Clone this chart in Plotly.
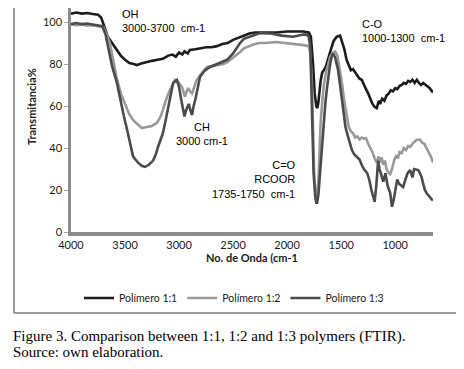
import plotly.graph_objects as go

# ---- data ----
x_p11 = [4000, 3950, 3900, 3850, 3800, 3750, 3720, 3690, 3660, 3620, 3580, 3540, 3500, 3460, 3420, 3390,
         3350, 3300, 3250, 3200, 3150, 3100, 3060, 3030, 3000, 2970, 2950, 2920, 2900, 2850, 2800, 2750,
         2700, 2650, 2600, 2550, 2500, 2450, 2400, 2350, 2300, 2250, 2200, 2100, 2000, 1900, 1850, 1800,
         1780, 1760, 1745, 1730, 1720, 1710, 1700, 1690, 1675, 1660, 1640, 1620, 1600, 1570, 1540, 1510,
         1490, 1470, 1450, 1430, 1410, 1390, 1370, 1350, 1330, 1310, 1290, 1270, 1250, 1230, 1210, 1190,
         1170, 1160, 1150, 1140, 1120, 1100, 1080, 1060, 1040, 1020, 1000, 980, 960, 940, 920, 900, 880,
         860, 840, 820, 800, 780, 760, 740, 720, 700, 680, 660, 650]
y_p11 = [104, 104.5, 104, 104.3, 103.8, 103.5, 102, 97, 93, 90, 87, 84, 82, 80.5, 80, 79.5,
         80.2, 81, 81.5, 82, 82.5, 84, 84.5, 83.5, 85.5, 84.5, 86, 85, 86.7, 87, 87.5, 88,
         88, 88.5, 89.5, 90, 91.5, 92.5, 93.5, 94.5, 95, 95, 95.2, 95, 95.5, 95.5, 95.5, 95,
         93, 80, 66, 60, 59, 62, 68, 72, 76, 77, 79, 82, 86, 91, 93, 93.5,
         90, 87, 82, 79, 77, 77.5, 76, 74.5, 73, 72.5, 70, 68, 66, 63, 61, 59.5,
         59, 61, 62.5, 61, 63.5, 62.5, 65, 66, 67.5, 67, 68.5, 68, 69.5, 70, 71, 70.5, 72,
         71.5, 72.5, 71, 72.5, 71, 70, 71, 70, 69.5, 68.5, 67, 66.5]

x_p12 = [4000, 3950, 3900, 3850, 3800, 3750, 3700, 3670, 3640, 3610, 3580, 3540, 3500, 3460, 3420, 3380,
         3345, 3300, 3250, 3205, 3170, 3150, 3120, 3085, 3060, 3037, 3010, 2990, 2972, 2955, 2945, 2930,
         2915, 2900, 2880, 2860, 2840, 2800, 2740, 2700, 2650, 2590, 2550, 2500, 2435, 2400, 2350, 2300,
         2250, 2200, 2100, 2000, 1900, 1850, 1800, 1785, 1770, 1760, 1750, 1740, 1730, 1720, 1710, 1700,
         1690, 1675, 1660, 1640, 1620, 1600, 1575, 1555, 1535, 1510, 1490, 1470, 1450, 1430, 1410, 1390,
         1370, 1350, 1330, 1310, 1290, 1270, 1250, 1230, 1210, 1190, 1170, 1155, 1140, 1125, 1110, 1095,
         1080, 1060, 1046, 1030, 1010, 990, 975, 960, 940, 920, 900, 880, 860, 840, 820, 800, 787, 770,
         750, 730, 710, 690, 670, 650]
y_p12 = [99, 98.5, 98.8, 98.3, 98.5, 98, 97.5, 94, 90, 82, 74, 66, 61, 56, 53, 51,
         49.5, 50, 50.5, 52, 55, 58, 63, 67.6, 70, 72.4, 71.5, 70, 69, 66, 64.3, 67,
         68.5, 67, 66, 69, 72, 75, 78.6, 79, 79.5, 80, 81, 83, 85.7, 87.5, 88.5, 89.5,
         90, 90, 90.5, 90, 89.5, 89, 88.5, 85, 70, 45, 28, 20, 17, 18, 25, 38,
         52, 62, 70, 76, 80, 83.5, 85.5, 86, 84, 77, 70, 62, 55, 50, 48, 47,
         45, 45.5, 44, 45, 44.5, 44.7, 42, 40, 38, 35, 33, 36, 33, 35.5, 32, 34,
         30, 28, 27.5, 30, 34, 36.5, 35, 38, 37.5, 40, 39, 41, 40.5, 42, 43, 44, 43.8, 44,
         42.5, 42, 40, 38, 36, 33]

x_p13 = [4000, 3950, 3900, 3850, 3800, 3750, 3710, 3680, 3650, 3620, 3575, 3540, 3510, 3480, 3454, 3426,
         3380, 3345, 3315, 3280, 3240, 3215, 3195, 3170, 3150, 3125, 3100, 3075, 3055, 3020, 3000, 2980,
         2960, 2950, 2935, 2925, 2910, 2895, 2880, 2865, 2850, 2805, 2760, 2713, 2650, 2600, 2555, 2500,
         2435, 2400, 2350, 2300, 2250, 2150, 2050, 1944, 1900, 1852, 1820, 1800, 1785, 1775, 1765, 1755,
         1740, 1730, 1722, 1710, 1700, 1690, 1676, 1660, 1645, 1630, 1615, 1602, 1585, 1574, 1555, 1528,
         1505, 1482, 1460, 1440, 1417, 1400, 1380, 1352, 1330, 1310, 1290, 1259, 1240, 1220, 1204, 1190,
         1175, 1158, 1145, 1130, 1110, 1090, 1070, 1046, 1030, 1015, 1000, 981, 965, 945, 926, 905, 885,
         861, 840, 825, 800, 787, 770, 755, 741, 725, 710, 690, 670, 650]
y_p13 = [99, 99.5, 99, 99.3, 98.8, 98.5, 98, 94, 87, 79, 71, 62, 55, 48.6, 43, 36,
         33, 31.5, 31, 32, 34, 37, 40.5, 44, 47, 53, 59.5, 66, 71, 72.4, 69, 63,
         57, 55, 58, 59.5, 61, 58, 55.7, 60, 63, 74, 77, 78.6, 80, 81, 82, 85,
         90, 92, 93, 94, 94.7, 94.5, 93.5, 93, 93.5, 94, 94, 93, 88, 70, 45, 28,
         17, 14, 14, 18, 25, 32, 37.6, 52, 62, 69, 75, 80, 84, 85, 83, 77,
         68, 58, 50, 46, 42, 39, 37, 35.7, 34.5, 32, 30, 28, 25, 20, 16.7, 14.3,
         22, 34, 30, 27, 24, 28, 22, 18.6, 12, 15, 20, 25, 23, 22, 21.4, 25, 28,
         29.5, 26, 30, 29.5, 29.5, 28, 26, 23, 20, 18.6, 17, 16, 15]

series_names = ["Polímero 1:1", "Polímero 1:2", "Polímero 1:3"]
x_ticks = [4000, 3500, 3000, 2500, 2000, 1500, 1000]
y_ticks = [0, 20, 40, 60, 80, 100]

colors = ["#1c1c1c", "#999999", "#4b4b4b"]

fig = go.Figure()
for name, xs, ys, c in zip(series_names, [x_p11, x_p12, x_p13], [y_p11, y_p12, y_p13], colors):
    fig.add_trace(go.Scatter(x=xs, y=ys, mode="lines", name=name,
                             line=dict(color=c, width=2.6)))

# The page body adds an 8px offset; figure coords = page coords - 8.
OFF = 8
W, H = 464 - OFF, 369 - OFF
L_ref, R_ref, T_ref, B_ref = 71, 433, 8, 232   # plot area in page pixels
def px(xp):
    return (xp - L_ref) / (R_ref - L_ref)
def py(yp):
    return (B_ref - yp) / (B_ref - T_ref)

ann_font = dict(family="Liberation Sans, Arial", size=11, color="#000000")
cap_font = dict(family="Liberation Serif, Times New Roman", size=15, color="#000000")
annotations = [
    dict(x=px(120), y=py(21), xref="paper", yref="paper", xanchor="left", yanchor="middle", align="left",
         text="OH<br>3000-3700\u00a0 cm-1", showarrow=False, font=ann_font),
    dict(x=px(202), y=py(134), xref="paper", yref="paper", xanchor="center", yanchor="middle", align="center",
         text="CH<br>3000 cm-1", showarrow=False, font=ann_font),
    dict(x=px(298), y=py(179), xref="paper", yref="paper", xanchor="right", yanchor="middle", align="right",
         text="C=O<br>RCOOR<br>1735-1750\u00a0 cm-1", showarrow=False, font=ann_font),
    dict(x=px(360), y=py(31), xref="paper", yref="paper", xanchor="left", yanchor="middle", align="left",
         text="C-O<br>1000-1300\u00a0 cm-1", showarrow=False, font=ann_font),
    dict(x=px(11), y=py(336), xref="paper", yref="paper", xanchor="left", yanchor="middle", align="left",
         text="Figure 3. Comparison between 1:1, 1:2 and 1:3 polymers (FTIR).", showarrow=False,
         font=cap_font),
    dict(x=px(11), y=py(352), xref="paper", yref="paper", xanchor="left", yanchor="middle", align="left",
         text="Source: own elaboration.", showarrow=False, font=cap_font),
    dict(x=0.5, y=py(257), xref="paper", yref="paper", xanchor="center", yanchor="middle",
         text="<b>No. de Onda (cm-1</b>", showarrow=False,
         font=dict(family="Lato, Open Sans", size=11, color="#1a1a1a")),
    dict(x=px(31), y=py(107), xref="paper", yref="paper", xanchor="center", yanchor="middle",
         text="<b>Transmitancia%</b>", textangle=-90, showarrow=False,
         font=dict(family="Lato, Open Sans", size=11, color="#1a1a1a")),
]

shapes = [
    dict(type="line", xref="paper", yref="paper", x0=px(14), x1=px(457), y0=py(5), y1=py(5),
         line=dict(color="#d4d4d4", width=1.5)),
    dict(type="line", xref="paper", yref="paper", x0=px(457), x1=px(457), y0=py(5), y1=py(313),
         line=dict(color="#d4d4d4", width=1.5)),
    dict(type="line", xref="paper", yref="paper", x0=px(14), x1=px(14), y0=py(5), y1=py(313),
         line=dict(color="#7a7a7a", width=1.5)),
    dict(type="line", xref="paper", yref="paper", x0=px(14), x1=px(457), y0=py(313), y1=py(313),
         line=dict(color="#7a7a7a", width=1.5)),
]

fig.update_layout(
    width=W, height=H,
    margin=dict(l=L_ref - OFF, r=W - (R_ref - OFF), t=T_ref - OFF, b=H - (B_ref - OFF), pad=0,
                autoexpand=False),
    paper_bgcolor="white", plot_bgcolor="white",
    showlegend=True,
    legend=dict(orientation="h", x=px(234), xanchor="center", y=py(298), yanchor="middle",
                font=dict(family="Lato, Open Sans", size=10.5, color="#1a1a1a"),
                itemwidth=30, tracegroupgap=0, bgcolor="rgba(0,0,0,0)"),
    annotations=annotations,
    shapes=shapes,
    font=dict(family="Lato, Open Sans", size=11, color="#1a1a1a"),
)
fig.update_xaxes(range=[4000, 650], tickvals=x_ticks, ticktext=[str(v) for v in x_ticks],
                 showgrid=False, zeroline=False, showline=True, linecolor="#8c8c8c", linewidth=4,
                 ticks="", tickfont=dict(family="Lato, Open Sans", size=11, color="#1a1a1a"))
fig.update_yaxes(range=[0, (B_ref - T_ref) / 2.1], tickvals=y_ticks, showgrid=False, zeroline=False,
                 showline=True, linecolor="#8c8c8c", linewidth=2.5, ticks="outside", ticklen=4,
                 tickcolor="#a6a6a6", tickwidth=1,
                 tickfont=dict(family="Lato, Open Sans", size=11, color="#1a1a1a"))

fig.write_html("out.html")
